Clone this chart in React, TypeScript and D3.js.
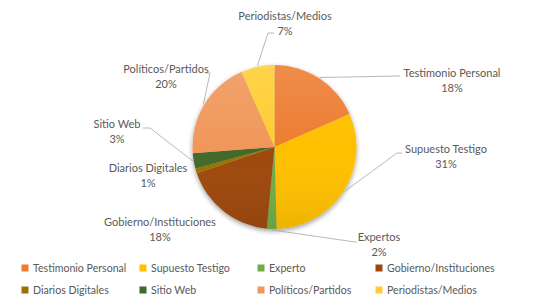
import React from "react";
import * as d3 from "d3";

const categories = [
  "Testimonio Personal",
  "Supuesto Testigo",
  "Expertos",
  "Gobierno/Instituciones",
  "Diarios Digitales",
  "Sitio Web",
  "Políticos/Partidos",
  "Periodistas/Medios",
];
const legendNames = [
  "Testimonio Personal",
  "Supuesto Testigo",
  "Experto",
  "Gobierno/Instituciones",
  "Diarios Digitales",
  "Sitio Web",
  "Políticos/Partidos",
  "Periodistas/Medios",
];
const values = [18.4, 31.2, 1.9, 18.3, 1.0, 3.0, 19.6, 6.6];
const colors = ["#ED7D31", "#FFC000", "#70AD47", "#9E480E", "#997300", "#43682B", "#F1975A", "#FFCD33"];

// label layout (manually placed in the original chart)
const labelAt: [number, number][] = [
  [452, 77], [446, 153], [379, 241], [160, 226], [148, 172], [117, 128], [166, 73], [285, 20],
];
// leader line elbow + end points (null = no leader)
const leaders: ([number, number][] | null)[] = [
  [[398, 76], [400, 76]],
  [[397, 153], [402, 153]],
  [[355, 242], [357, 242]],
  null,
  null,
  [[150, 128], [143, 128]],
  [[210, 73], [206, 73]],
  [[268, 33], [274, 33]],
];

const W = 558, H = 308;
const cx = 274.5, cy = 147, R = 82;
const textColor = "#595959";
const font = "Lato, 'Open Sans', sans-serif";

export default function App() {
  const pie = d3.pie<number>().sort(null).value((d) => d)(values);
  const arc = d3.arc<d3.PieArcDatum<number>>().innerRadius(0).outerRadius(R);
  const total = d3.sum(values);
  const pct = d3.format(".0%");
  const cols = [25, 143, 261, 379];
  const rows = [268, 290];
  return (
    <svg width={W} height={H} style={{ position: "absolute", left: 0, top: 0, background: "#fff" }}>
      <defs>
        <filter id="sh" x="-20%" y="-20%" width="140%" height="140%">
          <feGaussianBlur in="SourceAlpha" stdDeviation="2.5" />
          <feOffset dx="0" dy="2" result="b" />
          <feComponentTransfer>
            <feFuncA type="linear" slope="0.4" />
          </feComponentTransfer>
          <feMerge>
            <feMergeNode />
            <feMergeNode in="SourceGraphic" />
          </feMerge>
        </filter>
        <linearGradient id="shade" x1="0" y1="0" x2="0" y2="1">
          <stop offset="0" stopColor="#fff" stopOpacity="0.12" />
          <stop offset="0.5" stopColor="#fff" stopOpacity="0.0" />
          <stop offset="1" stopColor="#000" stopOpacity="0.07" />
        </linearGradient>
      </defs>
      <g transform={`translate(${cx},${cy})`}>
        <g filter="url(#sh)">
          {pie.map((p, i) => (
            <path key={i} d={arc(p) || ""} fill={colors[i]} />
          ))}
        </g>
        <circle r={R} fill="url(#shade)" />
      </g>
      {pie.map((p, i) => {
        const L = leaders[i];
        if (!L) return null;
        const a = (p.startAngle + p.endAngle) / 2;
        const sx = cx + Math.sin(a) * (R + 1);
        const sy = cy - Math.cos(a) * (R + 1);
        const pts = [[sx, sy], ...L];
        return (
          <polyline key={"l" + i} points={pts.map((q) => q.join(",")).join(" ")} fill="none" stroke="#A6A6A6" strokeWidth={0.8} />
        );
      })}
      {pie.map((p, i) => (
        <text key={"t" + i} x={labelAt[i][0]} y={labelAt[i][1]} textAnchor="middle" fontFamily={font} fontSize={11} fill={textColor}>
          <tspan x={labelAt[i][0]}>{categories[i]}</tspan>
          <tspan x={labelAt[i][0]} dy={14.8}>{pct(values[i] / total)}</tspan>
        </text>
      ))}
      {legendNames.map((n, i) => {
        const x = cols[i % 4];
        const y = rows[Math.floor(i / 4)];
        return (
          <g key={"lg" + i}>
            <rect x={x - 3.5} y={y - 3.5} width={7} height={7} fill={colors[i]} />
            <text x={x + 8} y={y + 3.9} fontFamily={font} fontSize={10.6} fill={textColor}>{n}</text>
          </g>
        );
      })}
    </svg>
  );
}
